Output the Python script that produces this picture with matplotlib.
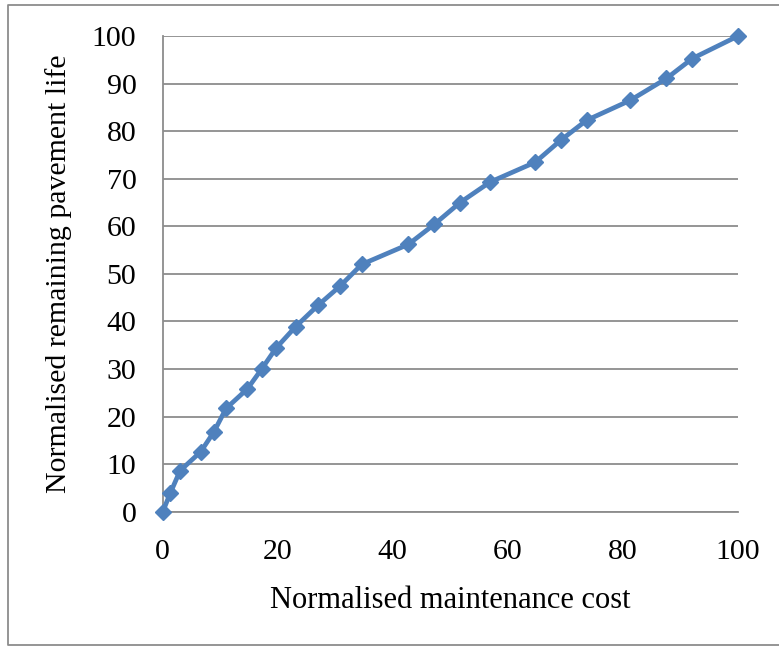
import matplotlib.pyplot as plt
from matplotlib.lines import Line2D

plt.rcParams['font.family'] = ['Liberation Serif', 'DejaVu Serif']

# normalised maintenance cost vs normalised remaining pavement life
cost = [0, 1.3, 3.0, 6.6, 8.9, 11.0, 14.7, 17.2, 19.7, 23.1, 27.0, 30.8,
        34.6, 42.7, 47.2, 51.7, 56.9, 64.8, 69.2, 73.7, 81.3, 87.6, 92.1, 100]
life = [0, 3.9, 8.6, 12.6, 16.8, 21.7, 25.8, 30.0, 34.4, 38.9, 43.4, 47.4,
        52.0, 56.2, 60.4, 65.0, 69.3, 73.5, 78.1, 82.3, 86.5, 91.1, 95.3, 100]

xticks = [0, 20, 40, 60, 80, 100]
yticks = [0, 10, 20, 30, 40, 50, 60, 70, 80, 90, 100]

fig = plt.figure(figsize=(7.79, 6.46), dpi=100)
ax = fig.add_axes([0.209, 0.208, 0.738, 0.736])

ax.plot(cost, life, color='#4F81BD', linewidth=3.4, marker='D', markersize=8.5,
        markeredgecolor='#4F81BD', zorder=3, clip_on=False)

ax.set_xlim(0, 100)
ax.set_ylim(0, 100)
ax.set_xticks(xticks)
ax.set_yticks(yticks)
ax.tick_params(length=0, labelsize=21.5)
ax.tick_params(axis='x', pad=20)
ax.tick_params(axis='y', pad=19)
ax.grid(axis='y', color='#8c8c8c', linewidth=1.3)
ax.set_axisbelow(True)
for s in ['top', 'right']:
    ax.spines[s].set_visible(False)
for s in ['left', 'bottom']:
    ax.spines[s].set_color('#8c8c8c')
    ax.spines[s].set_linewidth(1.3)

ax.set_xlabel('Normalised maintenance cost', fontsize=22, labelpad=15)
ax.set_ylabel('Normalised remaining pavement life', fontsize=21.5, labelpad=14)

# outer chart border (right side runs off the image)
bx = [1.02, 8 / 779, 8 / 779, 1.02]
by = [1 - 5 / 646, 1 - 5 / 646, 1 - 645 / 646, 1 - 645 / 646]
fig.add_artist(Line2D(bx, by, transform=fig.transFigure, color='#8c8c8c', linewidth=1.3))

plt.savefig('out.png', dpi=100)
